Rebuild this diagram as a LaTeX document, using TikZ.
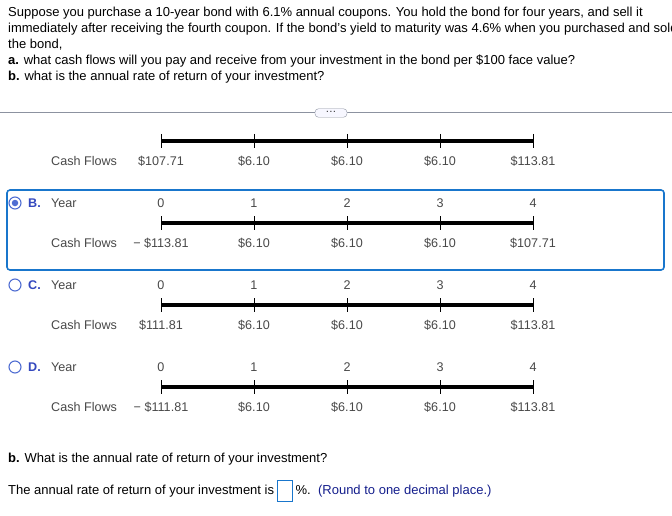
\documentclass[tikz,border=0pt]{standalone}
\usepackage{fontspec}
\setmainfont{Liberation Sans}
\usetikzlibrary{positioning, calc}
\definecolor{choiceblue}{RGB}{25,118,204}
\definecolor{letterblue}{RGB}{52,72,190}
\definecolor{radioblue}{RGB}{80,110,210}
\definecolor{flowgray}{RGB}{72,72,72}
\definecolor{hintblue}{RGB}{20,30,140}
\definecolor{rulegray}{RGB}{140,146,160}

\begin{document}
\begin{tikzpicture}[
    x=1pt, y=-1pt,
    qtext/.style={anchor=base west, inner sep=0pt, font=\fontsize{13}{15}\selectfont},
    flow/.style={anchor=base, inner sep=0pt, font=\fontsize{12.6}{14}\selectfont, text=flowgray},
    flowlabel/.style={anchor=base west, inner sep=0pt, font=\fontsize{12.6}{14}\selectfont, text=flowgray},
    letter/.style={anchor=base west, inner sep=0pt, font=\fontsize{12.6}{14}\selectfont\bfseries, text=letterblue},
    bar/.style={line width=4pt},
    tickmark/.style={line width=0.8pt},
    radio/.style={draw=radioblue, line width=1.1pt, fill=white}
]
\useasboundingbox (0,0) rectangle (672,516);
\clip (0,0) rectangle (672,516);

% question text
\node[qtext] (q1) at (8,17) {Suppose you purchase a 10-year bond with 6.1\% annual coupons. You hold the bond for four years, and sell it};
\node[qtext] (q2) at (8,33) {immediately after receiving the fourth coupon. If the bond's yield to maturity was 4.6\% when you purchased and sold};
\node[qtext] (q3) at (8,48.5) {the bond,};
\node[qtext] (q4) at (8,64.5) {\textbf{a.} what cash flows will you pay and receive from your investment in the bond per \$100 face value?};
\node[qtext] (q5) at (8,80.5) {\textbf{b.} what is the annual rate of return of your investment?};

% separator with expand button
\coordinate (sepL) at (0,112);
\coordinate (sepR) at (672,112);
\draw[rulegray, line width=0.8pt] (sepL) -- (sepR);
\node[draw=rulegray, fill=blue!3, rounded corners=3.5pt, minimum width=32pt, minimum height=8.5pt,
      inner sep=0pt, font=\fontsize{8}{8}\selectfont\bfseries, text=black!75] (more) at (331,113) {\raisebox{1.2pt}{.\,.\,.}};

% answer choice B frame
\node[draw=choiceblue, line width=1.6pt, rounded corners=3pt, minimum width=657pt, minimum height=80pt,
      inner sep=0pt] (frameB) at (335.5,230) {};

% radio buttons and letters
\node[radio, circle, minimum size=12pt, inner sep=0pt] (rB) at (15,203) {};
\node[circle, fill=radioblue, minimum size=6.5pt, inner sep=0pt] (rBdot) at (rB.center) {};
\node[radio, circle, minimum size=12pt, inner sep=0pt] (rC) at (15,285) {};
\node[radio, circle, minimum size=12pt, inner sep=0pt] (rD) at (15,367) {};
\node[letter] (lB) at (28,207.5) {B.};
\node[letter] (lC) at (28,289.5) {C.};
\node[letter] (lD) at (28,371.5) {D.};

% timelines
\foreach \r/\by in {a/141, b/223, c/305, d/387} {
    \foreach \i in {0,...,4}
        \coordinate (\r\i) at (161+93*\i,\by);
    \draw[bar] (\r0) -- (\r4);
    \foreach \i in {0,...,4}
        \draw[tickmark] ($(\r\i)+(0,-7)$) -- ($(\r\i)+(0,7)$);
    \node[flowlabel] (\r cf) at (51,\by+24.5) {Cash Flows};
}
\foreach \r/\by in {b/223, c/305, d/387} {
    \node[flowlabel] (\r year) at (51,\by-15.5) {Year};
    \foreach \i in {0,...,4}
        \node[flow] (\r y\i) at (161+93*\i,\by-15.5) {\i};
}

% cash flow values
\foreach \i/\v in {0/{\$107.71}, 1/{\$6.10}, 2/{\$6.10}, 3/{\$6.10}, 4/{\$113.81}}
    \node[flow] (av\i) at (161+93*\i,165.5) {\v};
\foreach \i/\v in {0/{− \$113.81}, 1/{\$6.10}, 2/{\$6.10}, 3/{\$6.10}, 4/{\$107.71}}
    \node[flow] (bv\i) at (161+93*\i,247.5) {\v};
\foreach \i/\v in {0/{\$111.81}, 1/{\$6.10}, 2/{\$6.10}, 3/{\$6.10}, 4/{\$113.81}}
    \node[flow] (cv\i) at (161+93*\i,329.5) {\v};
\foreach \i/\v in {0/{− \$111.81}, 1/{\$6.10}, 2/{\$6.10}, 3/{\$6.10}, 4/{\$113.81}}
    \node[flow] (dv\i) at (161+93*\i,411.5) {\v};

% part b
\node[qtext] (pb) at (8,462.5) {\textbf{b.} What is the annual rate of return of your investment?};
\node[qtext] (ans) at (8,494.5) {The annual rate of return of your investment is};
\node[draw=choiceblue, line width=1pt, minimum width=15pt, minimum height=21pt, inner sep=0pt]
      (box) at ($(ans.base east)+(11,-3.5)$) {};
\node[qtext] (pct) at ($(box.east |- ans.base)+(2,0)$) {\%.};
\node[qtext, text=hintblue] (hint) at ($(pct.base east)+(7,0)$) {(Round to one decimal place.)};
\end{tikzpicture}
\end{document}
